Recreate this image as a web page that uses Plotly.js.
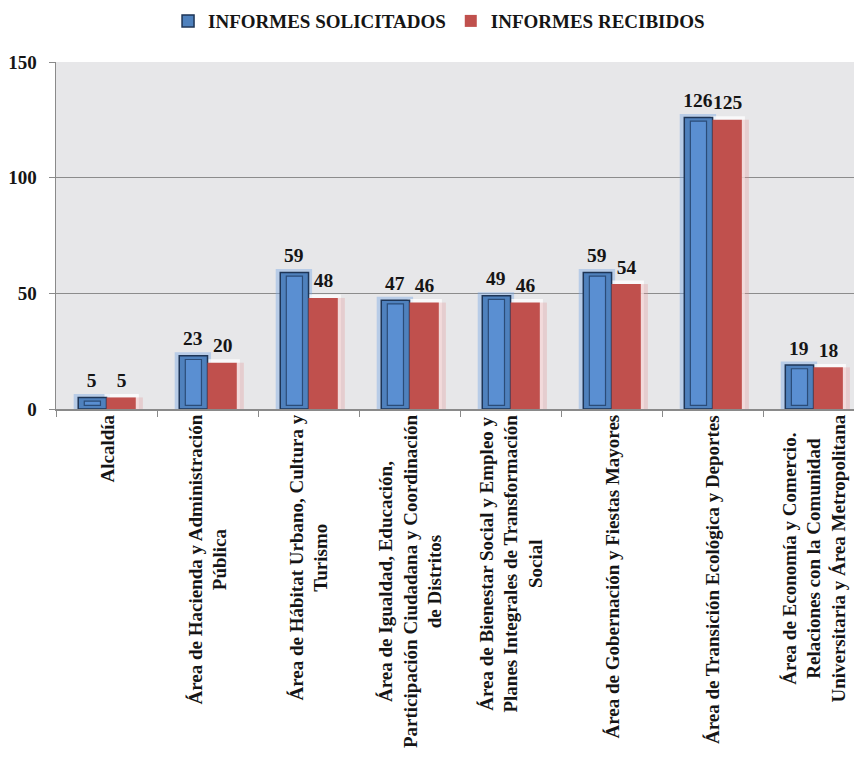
<!DOCTYPE html>
<html>
<head>
<meta charset="utf-8">
<script src="https://cdn.plot.ly/plotly-3.0.1.min.js"></script>
<style>html,body{margin:0;padding:0;background:#fff;}#chart{width:854px;height:762px;}</style>
</head>
<body>
<div id="chart"></div>
<script>
const categories = [
  "Alcaldía",
  "Área de Hacienda y Administración<br>Pública",
  "Área de Hábitat Urbano, Cultura y<br>Turismo",
  "Área de Igualdad, Educación,<br>Participación Ciudadana y Coordinación<br>de Distritos",
  "Área de Bienestar Social y Empleo y<br>Planes Integrales de Transformación<br>Social",
  "Área de Gobernación y Fiestas Mayores",
  "Área de Transición Ecológica y Deportes",
  "Área de Economía y Comercio.<br>Relaciones con la Comunidad<br>Universitaria y Área Metropolitana"
];
const solicitados = [5, 23, 59, 47, 49, 59, 126, 19];
const recibidos = [5, 20, 48, 46, 46, 54, 125, 18];
const seriesNames = ["INFORMES SOLICITADOS", "INFORMES RECIBIDOS"];
const yTicks = [0, 50, 100, 150];

const FONT = "'Liberation Serif', 'Times New Roman', serif";
const x = categories.map((c, i) => i);

const labelFont = {family: FONT, size: 19.5, color: "#151515", weight: "bold"};

const traces = [
  { // blue glow + label
    type: "bar", x: x, y: solicitados.map(v => v + 1.5), width: 0.36, offset: -0.325,
    marker: {color: "rgba(120,168,228,0.42)", line: {width: 0}},
    text: solicitados.map(String), textposition: "outside", constraintext: "none",
    textfont: labelFont, cliponaxis: false, showlegend: false, hoverinfo: "skip"
  },
  { // red white glow + label
    type: "bar", x: x, y: recibidos.map(v => v + 1.5), width: 0.34, offset: -0.02,
    marker: {color: "rgba(255,255,255,0.75)", line: {width: 0}},
    text: recibidos.map(String), textposition: "outside", constraintext: "none",
    textfont: labelFont, cliponaxis: false, showlegend: false, hoverinfo: "skip"
  },
  { // red shadow
    type: "bar", x: x, y: recibidos, width: 0.07, offset: 0.29,
    marker: {color: "rgba(225,140,140,0.28)", line: {width: 0}},
    showlegend: false, hoverinfo: "skip"
  },
  {
    type: "bar", name: seriesNames[0], x: x, y: solicitados, width: 0.28, offset: -0.28,
    marker: {color: "#4F81BD", line: {color: "#1e3556", width: 1.5}}
  },
  { // blue bevel inner panel
    type: "bar", x: x, y: solicitados.map(v => v - 3.2), base: 1.6, width: 0.16, offset: -0.22,
    marker: {color: "#5a8fd2", line: {color: "#2b4c78", width: 1.2}},
    showlegend: false, hoverinfo: "skip"
  },
  {
    type: "bar", name: seriesNames[1], x: x, y: recibidos, width: 0.29, offset: 0,
    marker: {color: "#C0504D", line: {width: 0}}
  }
];

const annotations = categories.map((c, i) => ({
  x: i, y: 0, xref: "x", yref: "paper", yanchor: "top", xanchor: "center",
  yshift: -4, text: c, textangle: -90, showarrow: false, align: "center",
  font: {family: FONT, size: 19, color: "#151515", weight: "bold"}
}));

const layout = {
  width: 854, height: 762,
  margin: {l: 56, r: 0, t: 62, b: 353},
  paper_bgcolor: "#ffffff",
  plot_bgcolor: "#e7e7e9",
  barmode: "overlay",
  showlegend: true,
  legend: {
    orientation: "h", x: 0.48, xanchor: "center", y: 1.118, yanchor: "middle",
    font: {family: FONT, size: 19, color: "#151515", weight: "bold"},
    itemclick: false, bgcolor: "rgba(0,0,0,0)", itemwidth: 30
  },
  xaxis: {
    type: "linear", range: [-0.5, 7.40], tickvals: [-0.5, 0.5, 1.5, 2.5, 3.5, 4.5, 5.5, 6.5],
    showticklabels: false, showgrid: false, zeroline: false,
    showline: true, linecolor: "#8a8a8a", linewidth: 1.5,
    ticks: "outside", ticklen: 6, tickcolor: "#8a8a8a", tickwidth: 1
  },
  yaxis: {
    range: [0, 150], tickvals: yTicks, ticktext: yTicks.map(String),
    showgrid: true, gridcolor: "#8c8c8c", gridwidth: 1, zeroline: false,
    showline: true, linecolor: "#8a8a8a", linewidth: 1.5,
    ticks: "outside", ticklen: 6, tickcolor: "#8a8a8a", ticklabelstandoff: 8,
    tickfont: {family: FONT, size: 19, color: "#151515", weight: "bold"}
  },
  annotations: annotations
};

Plotly.newPlot("chart", traces, layout, {displayModeBar: false, staticPlot: true});
</script>
</body>
</html>
